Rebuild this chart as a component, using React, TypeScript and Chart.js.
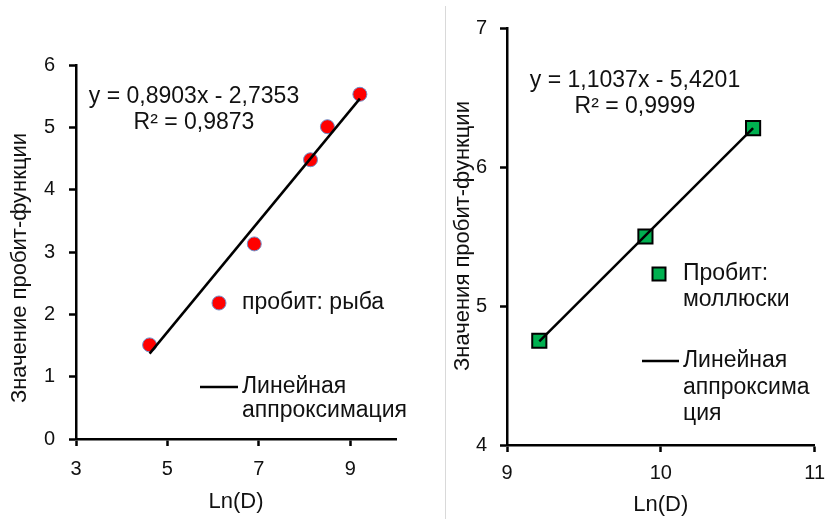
import React, { useEffect, useRef } from 'react';
import { Chart, registerables } from 'chart.js';

Chart.register(...registerables);

// ---------- Data: fish ----------
const fishLnD = [4.61, 6.9, 8.13, 8.5, 9.21];
const fishProbit = [1.51, 3.13, 4.48, 5.01, 5.53];
const fishTrendX = [4.61, 9.21];
const fishTrendY = [1.37, 5.46];
const fishXTicks = [3, 5, 7, 9];
const fishEquation = ['y = 0,8903x - 2,7353', 'R² = 0,9873'];
const fishPointLabel = ['пробит: рыба'];
const fishTrendLabel = ['Линейная', 'аппроксимация'];
const fishYTitle = 'Значение пробит-функции';

// ---------- Data: molluscs ----------
const molluscLnD = [9.21, 9.9, 10.6];
const molluscProbit = [4.75, 5.5, 6.28];
const molluscTrendX = [9.21, 10.6];
const molluscTrendY = [4.745, 6.279];
const molluscXTicks = [9, 10, 11];
const molluscEquation = ['y = 1,1037x - 5,4201', 'R² = 0,9999'];
const molluscPointLabel = ['Пробит:', 'моллюски'];
const molluscTrendLabel = ['Линейная', 'аппроксима', 'ция'];
const molluscYTitle = 'Значения пробит-функции';

const xTitle = 'Ln(D)';

const FAMILY = '"Liberation Sans", Arial, sans-serif';
const TEXT = '#111';

type PanelCfg = {
  width: number;
  height: number;
  xs: number[];
  ys: number[];
  tx: number[];
  ty: number[];
  xTicks: number[];
  xMin: number;
  xMax: number;
  yMin: number;
  yMax: number;
  yAxisW: number;
  xAxisH: number;
  pad: { top: number; right: number };
  xTickPad: number;
  yTickPad: number;
  xTitlePadBottom: number;
  marker: 'circle' | 'rect';
  markerRadius: number;
  markerFill: string;
  markerBorder: string;
  markerBorderW: number;
  pointLabel: string[];
  trendLabel: string[];
  equation: string[];
  eqPos: { x: number; ys: number[] };
  legend: {
    marker: { x: number; y: number; size: number };
    textX: number;
    pointYs: number[];
    line: { x0: number; x1: number; y: number };
    trendYs: number[];
  };
  yTitle: string;
  yTitlePos: { x: number; y: number };
};

function buildConfig(c: PanelCfg): any {
  const font = (size: number) => ({ family: FAMILY, size });
  const textPlugin = {
    id: 'panelText',
    afterDraw(chart: any) {
      const ctx = chart.ctx as CanvasRenderingContext2D;
      ctx.save();
      ctx.fillStyle = TEXT;
      ctx.textBaseline = 'middle';
      // equation
      ctx.font = `23px ${FAMILY}`;
      ctx.textAlign = 'center';
      c.equation.forEach((t, i) => ctx.fillText(t, c.eqPos.x, c.eqPos.ys[i]));
      // legend
      ctx.textAlign = 'left';
      const m = c.legend.marker;
      ctx.beginPath();
      if (c.marker === 'circle') {
        ctx.arc(m.x, m.y, m.size / 2, 0, Math.PI * 2);
      } else {
        ctx.rect(m.x - m.size / 2, m.y - m.size / 2, m.size, m.size);
      }
      ctx.fillStyle = c.markerFill;
      ctx.fill();
      ctx.lineWidth = c.markerBorderW;
      ctx.strokeStyle = c.markerBorder;
      ctx.stroke();
      ctx.fillStyle = TEXT;
      c.pointLabel.forEach((t, i) => ctx.fillText(t, c.legend.textX, c.legend.pointYs[i]));
      const l = c.legend.line;
      ctx.beginPath();
      ctx.moveTo(l.x0, l.y);
      ctx.lineTo(l.x1, l.y);
      ctx.lineWidth = 2.5;
      ctx.strokeStyle = '#000';
      ctx.stroke();
      c.trendLabel.forEach((t, i) => ctx.fillText(t, c.legend.textX, c.legend.trendYs[i]));
      // y title
      ctx.font = `22px ${FAMILY}`;
      ctx.translate(c.yTitlePos.x, c.yTitlePos.y);
      ctx.rotate(-Math.PI / 2);
      ctx.textAlign = 'center';
      ctx.fillText(c.yTitle, 0, 0);
      ctx.restore();
    },
  };

  return {
    type: 'scatter',
    data: {
      datasets: [
        {
          type: 'line',
          label: c.trendLabel.join(''),
          data: c.tx.map((x, i) => ({ x, y: c.ty[i] })),
          borderColor: '#000',
          borderWidth: 2.5,
          pointRadius: 0,
          fill: false,
          order: 0,
        },
        {
          label: c.pointLabel.join(' '),
          data: c.xs.map((x, i) => ({ x, y: c.ys[i] })),
          pointStyle: c.marker,
          pointRadius: c.markerRadius,
          backgroundColor: c.markerFill,
          borderColor: c.markerBorder,
          borderWidth: c.markerBorderW,
          order: 1,
        },
      ],
    },
    options: {
      animation: false,
      responsive: false,
      layout: { padding: { top: c.pad.top, right: c.pad.right, bottom: 0, left: 0 } },
      plugins: { legend: { display: false }, tooltip: { enabled: false } },
      scales: {
        x: {
          type: 'linear',
          min: c.xMin,
          max: c.xMax,
          afterBuildTicks: (s: any) => {
            s.ticks = c.xTicks.map((v) => ({ value: v }));
          },
          afterFit: (s: any) => {
            s.height = c.xAxisH;
          },
          grid: {
            drawOnChartArea: false,
            drawTicks: true,
            tickLength: 7,
            tickWidth: 2.5,
            tickColor: '#000',
            color: '#000',
          },
          border: { display: true, color: '#000', width: 2.5 },
          ticks: { padding: c.xTickPad, font: font(20), color: TEXT, maxRotation: 0 },
          title: {
            display: true,
            text: xTitle,
            font: font(22),
            color: TEXT,
            padding: { top: 0, bottom: c.xTitlePadBottom },
          },
        },
        y: {
          type: 'linear',
          min: c.yMin,
          max: c.yMax,
          ticks: { stepSize: 1, padding: c.yTickPad, font: font(20), color: TEXT },
          afterFit: (s: any) => {
            s.width = c.yAxisW;
          },
          grid: {
            drawOnChartArea: false,
            drawTicks: true,
            tickLength: 7,
            tickWidth: 2.5,
            tickColor: '#000',
            color: '#000',
          },
          border: { display: true, color: '#000', width: 2.5 },
        },
      },
    },
    plugins: [textPlugin],
  };
}

function ChartPanel({ cfg }: { cfg: PanelCfg }) {
  const ref = useRef<HTMLCanvasElement>(null);
  useEffect(() => {
    const chart = new Chart(ref.current as HTMLCanvasElement, buildConfig(cfg));
    return () => chart.destroy();
  }, [cfg]);
  return (
    <canvas
      ref={ref}
      width={cfg.width}
      height={cfg.height}
      style={{ display: 'block', width: cfg.width, height: cfg.height }}
    />
  );
}

const fishCfg: PanelCfg = {
  width: 445,
  height: 519,
  xs: fishLnD,
  ys: fishProbit,
  tx: fishTrendX,
  ty: fishTrendY,
  xTicks: fishXTicks,
  xMin: 3,
  xMax: 10,
  yMin: 0,
  yMax: 6,
  yAxisW: 76,
  xAxisH: 80,
  pad: { top: 65, right: 49 },
  xTickPad: 11,
  yTickPad: 14,
  xTitlePadBottom: 4,
  marker: 'circle',
  markerRadius: 7,
  markerFill: '#ff0000',
  markerBorder: '#6f8fc9',
  markerBorderW: 1,
  pointLabel: fishPointLabel,
  trendLabel: fishTrendLabel,
  equation: fishEquation,
  eqPos: { x: 194, ys: [97, 123] },
  legend: {
    marker: { x: 219, y: 303, size: 14 },
    textX: 242,
    pointYs: [303],
    line: { x0: 200, x1: 238, y: 387 },
    trendYs: [387, 411],
  },
  yTitle: fishYTitle,
  yTitlePos: { x: 20, y: 268 },
};

const molluscCfg: PanelCfg = {
  width: 388,
  height: 519,
  xs: molluscLnD,
  ys: molluscProbit,
  tx: molluscTrendX,
  ty: molluscTrendY,
  xTicks: molluscXTicks,
  xMin: 9,
  xMax: 11,
  yMin: 4,
  yMax: 7,
  yAxisW: 61,
  xAxisH: 74,
  pad: { top: 28, right: 13 },
  xTickPad: 9,
  yTickPad: 13,
  xTitlePadBottom: 1,
  marker: 'rect',
  markerRadius: 10,
  markerFill: '#00b050',
  markerBorder: '#000',
  markerBorderW: 2,
  pointLabel: molluscPointLabel,
  trendLabel: molluscTrendLabel,
  equation: molluscEquation,
  eqPos: { x: 189, ys: [81, 107] },
  legend: {
    marker: { x: 213, y: 274, size: 13 },
    textX: 237,
    pointYs: [274, 300],
    line: { x0: 196, x1: 233, y: 361 },
    trendYs: [361, 388, 414],
  },
  yTitle: molluscYTitle,
  yTitlePos: { x: 17, y: 236 },
};

export default function App() {
  return (
    <div
      style={{
        position: 'fixed',
        left: 0,
        top: 0,
        width: 834,
        height: 519,
        background: '#fff',
        overflow: 'hidden',
      }}
    >
      <div style={{ position: 'absolute', left: 0, top: 0 }}>
        <ChartPanel cfg={fishCfg} />
      </div>
      <div
        style={{ position: 'absolute', left: 445, top: 6, width: 1, height: 513, background: '#d9d9d9' }}
      />
      <div style={{ position: 'absolute', left: 446, top: 0 }}>
        <ChartPanel cfg={molluscCfg} />
      </div>
    </div>
  );
}
